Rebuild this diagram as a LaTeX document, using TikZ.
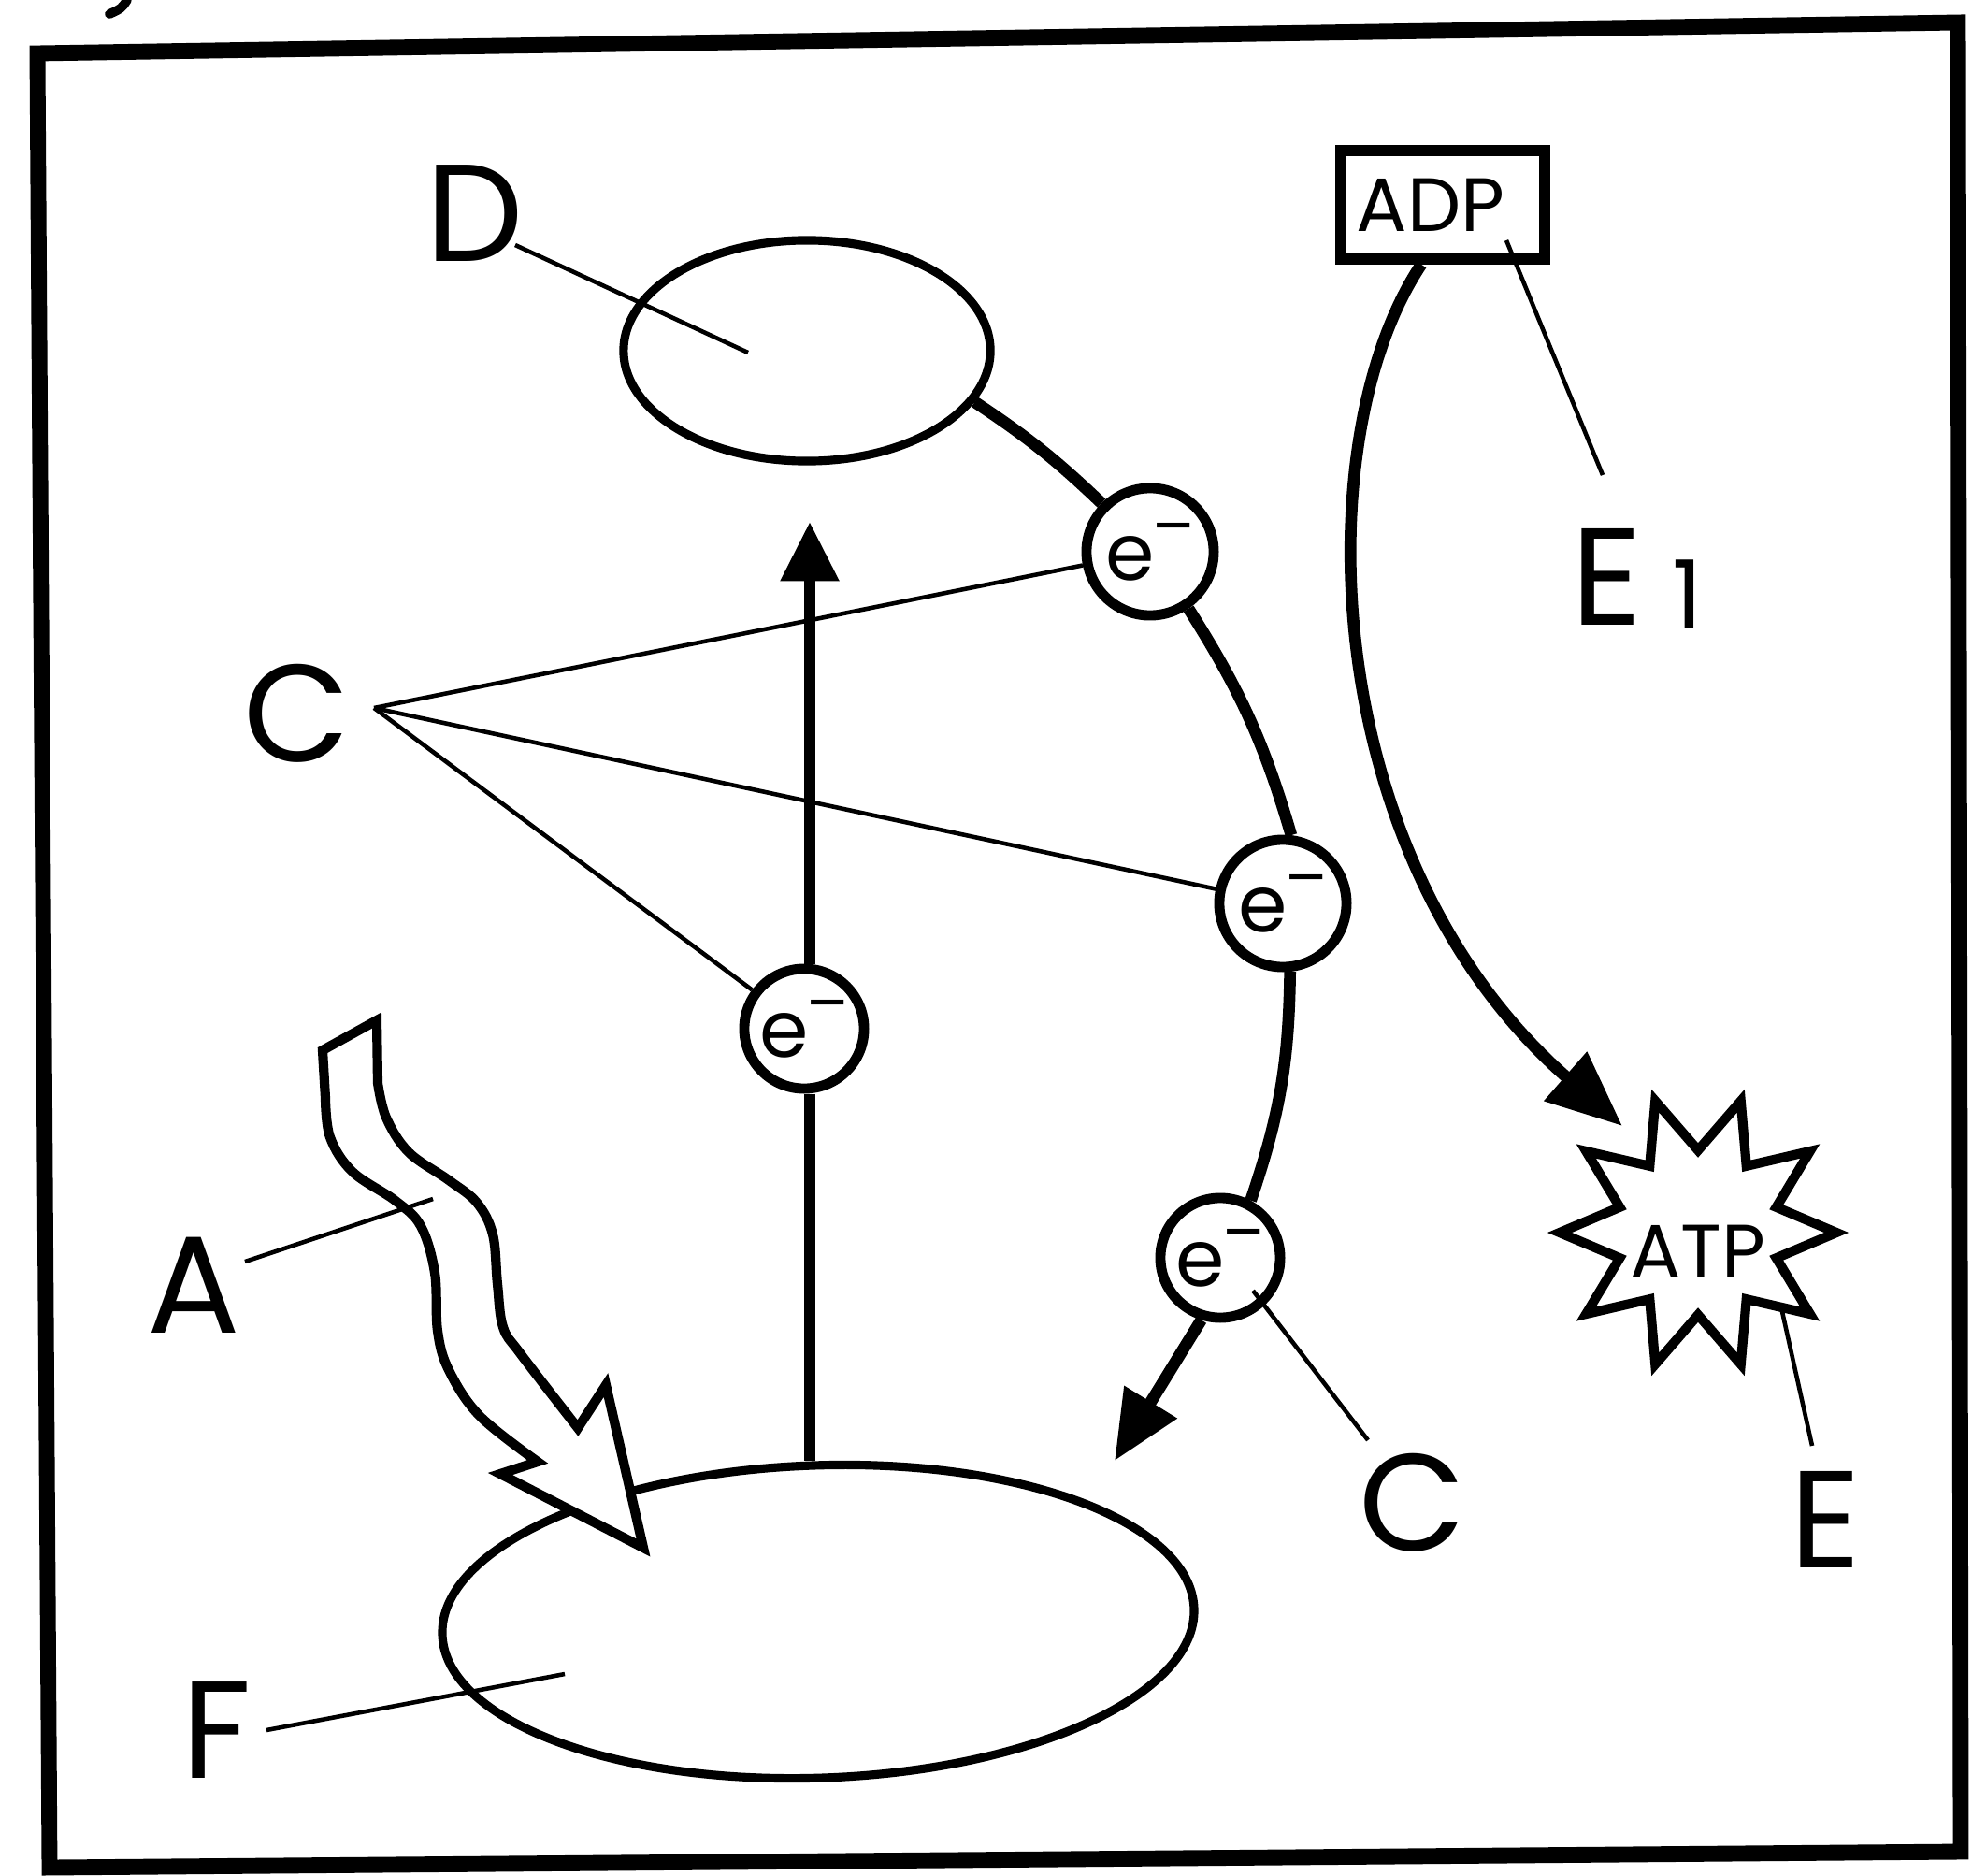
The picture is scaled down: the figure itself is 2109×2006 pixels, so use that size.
\documentclass[tikz,border=0pt]{standalone}
\usepackage{fontspec}
\setmainfont{Poppins}
\usetikzlibrary{arrows.meta,shapes.geometric}
\newcommand\myelec{e\kern-0.02em\raisebox{9.6pt}{\fontsize{19}{20}\selectfont –}}
\begin{document}
\begin{tikzpicture}[x=0.01cm,y=-0.01cm,
  big/.style={inner sep=0pt, font=\fontsize{42}{44}\selectfont},
  ecirc/.style={circle, draw, line width=3.1pt, minimum size=1.3cm, inner sep=0pt, font=\fontsize{24}{25}\selectfont},
  blob/.style={ellipse, draw, line width=2.6pt, inner sep=0pt},
  chain/.style={line width=3.6pt},
  leader/.style={line width=1.3pt},
  framestyle/.style={line width=4.8pt, line join=miter},
  wavy/.style={line width=2.9pt, line join=miter, fill=white},
  starline/.style={line width=2.9pt, line join=miter}]
\useasboundingbox (0,0) rectangle (2109,2006);
% frame and cut-off glyph above it
\draw[framestyle] (40,57) -- (2094,24) -- (2097,1980) -- (53,1997) -- cycle;
\draw[line width=2.8pt, line cap=round] (136,0) .. controls (130,9) .. (117,15);
% main nodes
\node[blob, minimum width=3.92cm, minimum height=2.36cm] (Dell) at (863,375) {};
\node[blob, minimum width=8.04cm, minimum height=3.34cm, rotate=2] (Fell) at (875,1734) {};
\node[ecirc, minimum size=1.36cm] (e1) at (1230,590) {\myelec};
\node[ecirc, minimum size=1.36cm] (e2) at (1372,966) {\myelec};
\node[ecirc, minimum size=1.28cm] (e3) at (860,1100) {\myelec};
\node[ecirc, minimum size=1.28cm] (e4) at (1305,1345) {\myelec};
\node[draw, rectangle, line width=3.3pt, minimum width=2.18cm, minimum height=1.16cm, inner sep=0pt, font=\fontsize{23}{24}\selectfont] (adp) at (1543,219) {ADP\hspace*{0.26cm}};
% ATP burst
\draw[starline] plot[samples=20, domain=0:19, variable=\k] ({1816+(118+30*cos(\k*180))*cos(\k*18)}, {1318+(118+30*cos(\k*180))*sin(\k*18)}) -- cycle;
\node[inner sep=0pt, font=\fontsize{23}{24}\selectfont] (atp) at (1816,1338) {ATP};
% labels
\node[big] (Dl) at (508,228) {D};
\node[big] (Cl) at (318,763) {C};
\node[big] (Al) at (207,1374) {A};
\node[big] (Fl) at (232,1850) {F};
\node[big] (C2l) at (1510,1607) {C};
\node[big] (El) at (1952,1625) {E};
\node[big, anchor=base west] (E1l) at (1680,668) {E\hspace{0.22em}\raisebox{-0.03em}{\fontsize{29}{30}\selectfont 1}};
% free ends
\coordinate (Cv) at (400,757);
\coordinate (dtip) at (866,558);
\coordinate (ftip) at (1192,1562);
\coordinate (atip) at (1735,1204);
\coordinate (dA) at (551,262);   \coordinate (dB) at (800,377);
\coordinate (fA) at (285,1850);  \coordinate (fB) at (604,1790);
\coordinate (aA) at (262,1349);  \coordinate (aB) at (463,1282);
\coordinate (e1A) at (1611,257); \coordinate (e1B) at (1714,508);
\coordinate (eA) at (1905,1398); \coordinate (eB) at (1938,1546);
\coordinate (cA) at (1340,1380); \coordinate (cB) at (1463,1540);
% wavy hollow arrow
\draw[wavy] (345,1123) -- (403,1091) -- plot[smooth, tension=0.6] coordinates {(404,1158) (413,1195) (437,1232) (480,1262) (510,1286) (527,1320) (532,1373) (538,1419) (557,1448) (618,1527)} -- (648,1481) -- (688,1655) -- (535,1576) -- plot[smooth, tension=0.6] coordinates {(575,1563) (513,1514) (480,1465) (468,1423) (465,1361) (450,1311) (423,1284) (377,1253) (353,1216) (348,1174)} -- cycle;
% electron chain
\draw[chain] (Dell.-17) to[bend left=5] (e1.135);
\draw[chain] (e1.-56) to[bend left=8] (e2.83);
\draw[chain] (e2.-84) to[bend left=9] (e4.62);
\draw[chain, -{Triangle[length=21pt,width=18pt]}] (e4.-107) -- (ftip);
\draw[chain] (e3.south -| dtip) -- (dtip |- Fell.north);
\draw[chain, -{Triangle[length=18pt,width=17pt]}] (e3.north -| dtip) -- (dtip);
\draw[chain, -{Triangle[length=23pt,width=19pt]}] ([xshift=-0.23cm]adp.south) .. controls (1395,470) and (1410,920) .. (atip);
% C lines
\draw[leader] (Cv) -- (e1);
\draw[leader] (Cv) -- (e2);
\draw[leader] (Cv) -- (e3);
% leaders
\draw[leader] (dA) -- (dB);
\draw[leader] (fA) -- (fB);
\draw[leader] (aA) -- (aB);
\draw[leader] (e1A) -- (e1B);
\draw[leader] (eA) -- (eB);
\draw[leader] (cA) -- (cB);
\end{tikzpicture}
\end{document}
